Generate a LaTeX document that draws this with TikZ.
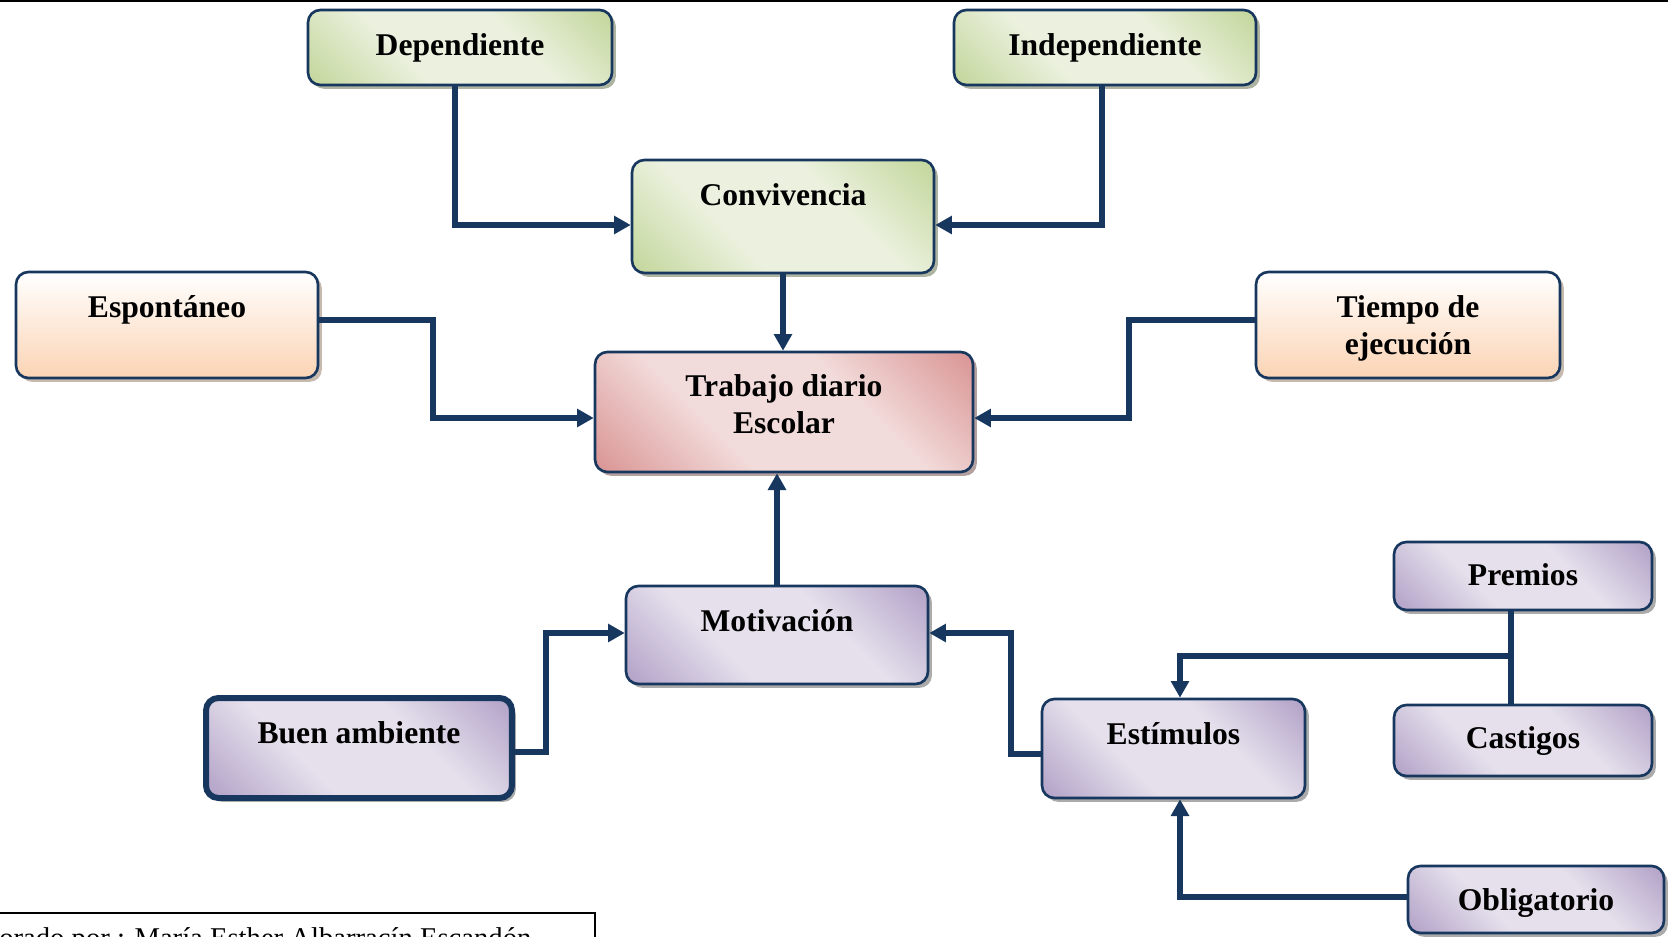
\documentclass[tikz,border=0pt]{standalone}
\usepackage{fontspec}
\setmainfont{Liberation Serif}
\usepackage{tikz}
\usetikzlibrary{arrows.meta,shadows}

\definecolor{azul}{HTML}{17375E}
\definecolor{verdeO}{HTML}{C3D69B}
\definecolor{verdeC}{HTML}{EBF1DE}
\definecolor{rosaO}{HTML}{D99594}
\definecolor{rosaC}{HTML}{F2DCDB}
\definecolor{lilaO}{HTML}{B2A1C7}
\definecolor{lilaC}{HTML}{E5E0EC}
\definecolor{melon}{HTML}{FBD4B4}
\colorlet{oscuro}{rosaO}
\colorlet{claro}{rosaC}

\pgfdeclarehorizontalshading[oscuro,claro]{esquinas}{100bp}{color(0bp)=(oscuro); color(15bp)=(oscuro);
  color(38bp)=(claro); color(62bp)=(claro); color(85bp)=(oscuro); color(100bp)=(oscuro)}

\tikzset{
  caja/.style={draw=azul, line width=1.5pt, rounded corners=7pt, inner sep=0pt,
    align=center, font=\fontsize{18}{21}\selectfont\bfseries, text height=0.9cm,
    drop shadow={shadow xshift=2.2pt, shadow yshift=-2.2pt, opacity=0.55, fill=#1}},
  caja/.default=black!60,
  verde/.style={caja=verdeO!55!black, /utils/exec={\colorlet{oscuro}{verdeO}\colorlet{claro}{verdeC}},
    shading=esquinas, shading angle=45},
  rosa/.style={caja=rosaO!55!black, /utils/exec={\colorlet{oscuro}{rosaO}\colorlet{claro}{rosaC}},
    shading=esquinas, shading angle=45},
  lila/.style={caja=black!60, /utils/exec={\colorlet{oscuro}{lilaO}\colorlet{claro}{lilaC}},
    shading=esquinas, shading angle=45},
  naranja/.style={caja=melon!60!black, top color=white, bottom color=melon},
  flecha/.style={draw=azul, line width=3.4pt, -{Triangle[length=9.5pt,width=10pt]}},
  linea/.style={draw=azul, line width=3.4pt}
}

\begin{document}
\begin{tikzpicture}[x=0.02cm, y=0.02cm]
\useasboundingbox (0,0) rectangle (1668,-937);
\draw [black, line width=1.5pt] (0,-1) -- (1668,-1);
\node [verde, minimum width=6.08cm, text depth=0.6cm] (dep) at (460,-47.5) {Dependiente};
\node [verde, minimum width=6.04cm, text depth=0.6cm] (ind) at (1105,-47.5) {Independiente};
\node [verde, minimum width=6.04cm, text depth=1.36cm] (conv) at (783,-216.5) {Convivencia};
\node [naranja, minimum width=6.04cm, text depth=1.22cm] (esp) at (167,-325) {Espontáneo};
\node [naranja, minimum width=6.08cm, text height=1.64cm, text depth=0.48cm] (tiempo) at (1408,-325) {Tiempo de\\ejecución};
\node [rosa, minimum width=7.56cm, text height=1.63cm, text depth=0.77cm] (trab) at (784,-412) {Trabajo diario\\Escolar};
\node [lila, minimum width=6.04cm, text depth=1.06cm] (motiv) at (777,-635) {Motivación};
\node [lila, line width=3.4pt, minimum width=6.12cm, text depth=1.1cm] (buen) at (359,-748) {Buen ambiente};
\node [lila, minimum width=5.26cm, text depth=1.08cm] (estim) at (1173.5,-748.5) {Estímulos};
\node [lila, minimum width=5.16cm, text height=0.86cm, text depth=0.5cm] (prem) at (1523,-576) {Premios};
\node [lila, minimum width=5.16cm, text height=0.86cm, text depth=0.56cm] (cast) at (1523,-740.5) {Castigos};
\node [lila, minimum width=5.12cm, text height=0.88cm, text depth=0.46cm] (oblig) at (1536,-899.5) {Obligatorio};
\coordinate (rama) at (1511,-656);
\draw [flecha] ([xshift=-0.1cm]dep.south) |- ([yshift=-0.17cm]conv.west);
\draw [flecha] ([xshift=-0.06cm]ind.south) |- ([yshift=-0.17cm]conv.east);
\draw [flecha] (conv.south) -- (conv.south |- trab.north);
\draw [flecha] ([yshift=0.1cm]esp.east) -- ++(114,0) |- ([yshift=-0.12cm]trab.west);
\draw [flecha] ([yshift=0.1cm]tiempo.west) -- ++(-126,0) |- ([yshift=-0.12cm]trab.east);
\draw [flecha] (motiv.north) -- (motiv.north |- trab.south);
\draw [flecha] ([yshift=-0.08cm]buen.east) -- ++(31,0) |- ([yshift=0.04cm]motiv.west);
\draw [flecha] ([yshift=-0.11cm]estim.west) -- ++(-30,0) |- ([yshift=0.04cm]motiv.east);
\draw [linea] ([xshift=-0.24cm]prem.south) -- ([xshift=-0.24cm]cast.north);
\draw [flecha] (rama) -| ([xshift=0.13cm]estim.north);
\draw [flecha] ([yshift=0.05cm]oblig.west) -| ([xshift=0.13cm]estim.south);
\draw [black, line width=1.4pt] (0,-913) -- (595,-913) -- (595,-945);
\node [anchor=base west, inner sep=0pt, font=\fontsize{16.3}{19}\selectfont] (pie) at (-1,-947) {orado por : María Esther Albarracín Escandón};
\end{tikzpicture}
\end{document}
